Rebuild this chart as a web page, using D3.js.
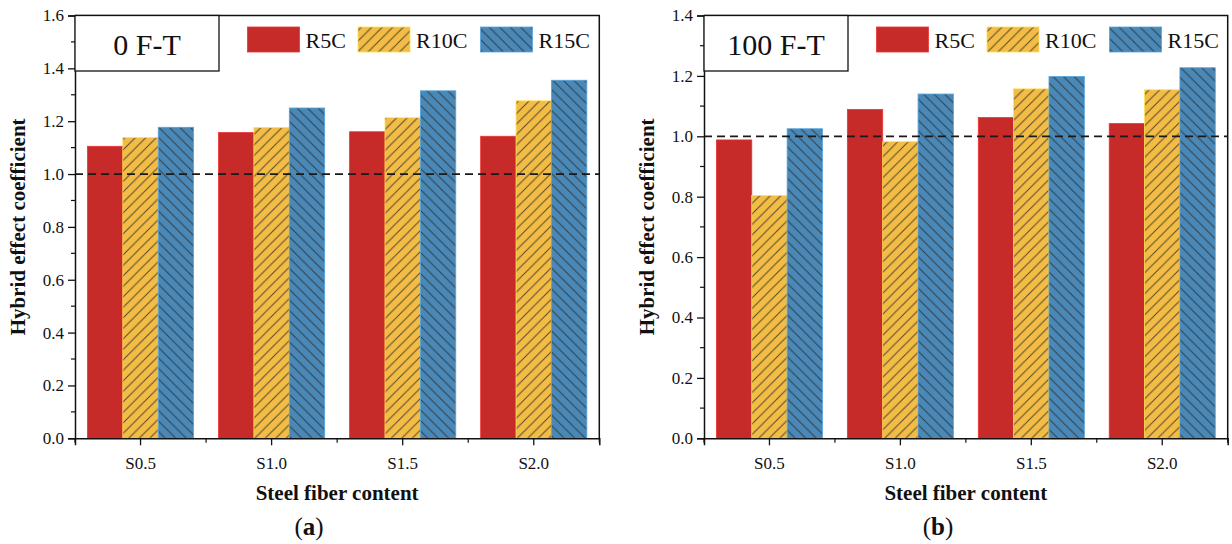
<!DOCTYPE html>
<html>
<head>
<meta charset="utf-8">
<script src="https://cdn.jsdelivr.net/npm/d3@7"></script>
<style>
  html, body { margin: 0; padding: 0; background: #fff; }
  svg { display: block; }
  text { font-family: "Liberation Serif", "Times New Roman", serif; fill: #111; }
</style>
</head>
<body>
<svg id="chart" width="1232" height="544"></svg>
<script>
// Steel fiber content groups and hybrid fibre series
const categories = ["S0.5", "S1.0", "S1.5", "S2.0"];
const seriesNames = ["R5C", "R10C", "R15C"];

// Hybrid effect coefficient, 0 freeze-thaw cycles
const r5c0   = [1.105, 1.157, 1.160, 1.143];
const r10c0  = [1.138, 1.176, 1.213, 1.277];
const r15c0  = [1.177, 1.250, 1.315, 1.355];

// Hybrid effect coefficient, 100 freeze-thaw cycles
const r5c100  = [0.988, 1.089, 1.062, 1.042];
const r10c100 = [0.804, 0.982, 1.157, 1.154];
const r15c100 = [1.025, 1.140, 1.198, 1.227];

const yTicksA = [0.0, 0.2, 0.4, 0.6, 0.8, 1.0, 1.2, 1.4, 1.6];
const yTicksB = [0.0, 0.2, 0.4, 0.6, 0.8, 1.0, 1.2, 1.4];

const colors = { R5C: "#c62a29", R10C: "#f2bc45", R15C: "#4a88b7" };
const hatch  = { R5C: null, R10C: "fwd", R15C: "back" };

const svg = d3.select("#chart");
const defs = svg.append("defs");

// diagonal hatch fills
function addHatch(id, fill, dir) {
  const s = 10.5;
  const p = defs.append("pattern")
    .attr("id", id).attr("patternUnits", "userSpaceOnUse")
    .attr("width", s).attr("height", s);
  p.append("rect").attr("width", s).attr("height", s).attr("fill", fill);
  const d = dir === "fwd"
    ? `M0,${s} L${s},0 M${-s/2},${s/2} L${s/2},${-s/2} M${s/2},${s*1.5} L${s*1.5},${s/2}`
    : `M0,0 L${s},${s} M${-s/2},${s/2} L${s/2},${s*1.5} M${s/2},${-s/2} L${s*1.5},${s/2}`;
  p.append("path").attr("d", d).attr("stroke", "#2b2b2b")
    .attr("stroke-width", 1).attr("stroke-opacity", 0.8);
}
addHatch("hatch-R10C", colors.R10C, "fwd");
addHatch("hatch-R15C", colors.R15C, "back");

function fillFor(name) {
  return hatch[name] ? `url(#hatch-${name})` : colors[name];
}
function edgeFor(name) {
  return d3.color(colors[name]).brighter(0.5).formatHex();
}

function drawPanel(opt) {
  const { left, right, top, bottom, yMax, yTicks, values, label, letter, letterX } = opt;
  const g = svg.append("g");

  const x = d3.scaleBand().domain(categories).range([left, right]).padding(0);
  const bw = x.bandwidth();
  const groupW = bw * 0.81;
  const xs = d3.scaleBand().domain(seriesNames)
    .range([(bw - groupW) / 2, (bw + groupW) / 2]).padding(0);
  const y = d3.scaleLinear().domain([0, yMax]).range([bottom, top]);

  // bars
  seriesNames.forEach((name, si) => {
    g.append("g").selectAll("rect")
      .data(values[si].map((v, i) => ({ cat: categories[i], v })))
      .join("rect")
      .attr("x", d => x(d.cat) + xs(name))
      .attr("y", d => y(d.v))
      .attr("width", xs.bandwidth())
      .attr("height", d => y(0) - y(d.v))
      .attr("fill", fillFor(name))
      .attr("stroke", edgeFor(name))
      .attr("stroke-width", 0.8);
  });

  // reference line at coefficient 1.0
  g.append("line")
    .attr("x1", left).attr("x2", right)
    .attr("y1", y(1)).attr("y2", y(1))
    .attr("stroke", "#1a1a1a").attr("stroke-width", 1.8)
    .attr("stroke-dasharray", "8,5");

  // y axis with minor ticks
  const yAxis = d3.axisLeft(y).tickValues(yTicks).tickFormat(d3.format(".1f"))
    .tickSize(7).tickPadding(4);
  const ya = g.append("g").attr("transform", `translate(${left},0)`).call(yAxis);
  ya.select(".domain").attr("stroke", "#111").attr("stroke-width", 1.5);
  ya.selectAll(".tick line").attr("stroke", "#111").attr("stroke-width", 1.3);
  ya.selectAll(".tick text").style("font-family", "Liberation Serif, serif")
    .style("font-size", "17px").attr("fill", "#222");
  const minorY = d3.range(0.1, yMax, 0.2);
  g.append("g").selectAll("line").data(minorY).join("line")
    .attr("x1", left - 4).attr("x2", left)
    .attr("y1", d => y(d)).attr("y2", d => y(d))
    .attr("stroke", "#111").attr("stroke-width", 1.2);

  // x axis: major ticks at group centres, minor ticks at group boundaries
  const xAxis = d3.axisBottom(x).tickSize(7).tickPadding(12);
  const xa = g.append("g").attr("transform", `translate(0,${bottom})`).call(xAxis);
  xa.select(".domain").attr("stroke", "#111").attr("stroke-width", 1.5);
  xa.selectAll(".tick line").attr("stroke", "#111").attr("stroke-width", 1.3);
  xa.selectAll(".tick text").style("font-family", "Liberation Serif, serif")
    .style("font-size", "17px").attr("fill", "#222");
  const bounds = categories.map(c => x(c)).concat([right]);
  g.append("g").selectAll("line").data(bounds).join("line")
    .attr("x1", d => d).attr("x2", d => d)
    .attr("y1", bottom).attr("y2", bottom + 4.5)
    .attr("stroke", "#111").attr("stroke-width", 1.2);

  // top and right frame
  g.append("path")
    .attr("d", `M${left},${top} H${right} V${bottom}`)
    .attr("fill", "none").attr("stroke", "#111").attr("stroke-width", 1.5);

  // condition label box
  g.append("rect")
    .attr("x", left).attr("y", top).attr("width", 144).attr("height", 55.5)
    .attr("fill", "#fff").attr("stroke", "#111").attr("stroke-width", 1.3);
  g.append("text")
    .attr("x", left + 72).attr("y", 54.5).attr("text-anchor", "middle")
    .style("font-size", "30px").text(label);

  // legend
  const legX = [172.5, 283, 405.5];
  seriesNames.forEach((name, i) => {
    const lx = left + legX[i];
    g.append("rect")
      .attr("x", lx).attr("y", 27).attr("width", 52).attr("height", 25)
      .attr("fill", fillFor(name)).attr("stroke", edgeFor(name)).attr("stroke-width", 0.8);
    g.append("text")
      .attr("x", lx + 58).attr("y", 47.5)
      .style("font-size", "22px").text(name);
  });

  // axis titles
  g.append("text")
    .attr("transform", `translate(${left - 50},${(top + bottom) / 2}) rotate(-90)`)
    .attr("text-anchor", "middle")
    .style("font-size", "21px").style("font-weight", "bold")
    .text("Hybrid effect coefficient");
  g.append("text")
    .attr("x", (left + right) / 2).attr("y", 500)
    .attr("text-anchor", "middle")
    .style("font-size", "21px").style("font-weight", "bold")
    .text("Steel fiber content");

  // panel letter
  const t = g.append("text")
    .attr("x", letterX).attr("y", 535).attr("text-anchor", "middle")
    .style("font-size", "25px");
  t.append("tspan").text("(");
  t.append("tspan").style("font-weight", "bold").text(letter);
  t.append("tspan").text(")");
}

drawPanel({
  left: 75, right: 599.3, top: 15.5, bottom: 438.3,
  yMax: 1.6, yTicks: yTicksA,
  values: [r5c0, r10c0, r15c0],
  label: "0 F-T", letter: "a", letterX: 309
});

drawPanel({
  left: 704, right: 1227.7, top: 15.5, bottom: 438.3,
  yMax: 1.4, yTicks: yTicksB,
  values: [r5c100, r10c100, r15c100],
  label: "100 F-T", letter: "b", letterX: 938
});
</script>
</body>
</html>
